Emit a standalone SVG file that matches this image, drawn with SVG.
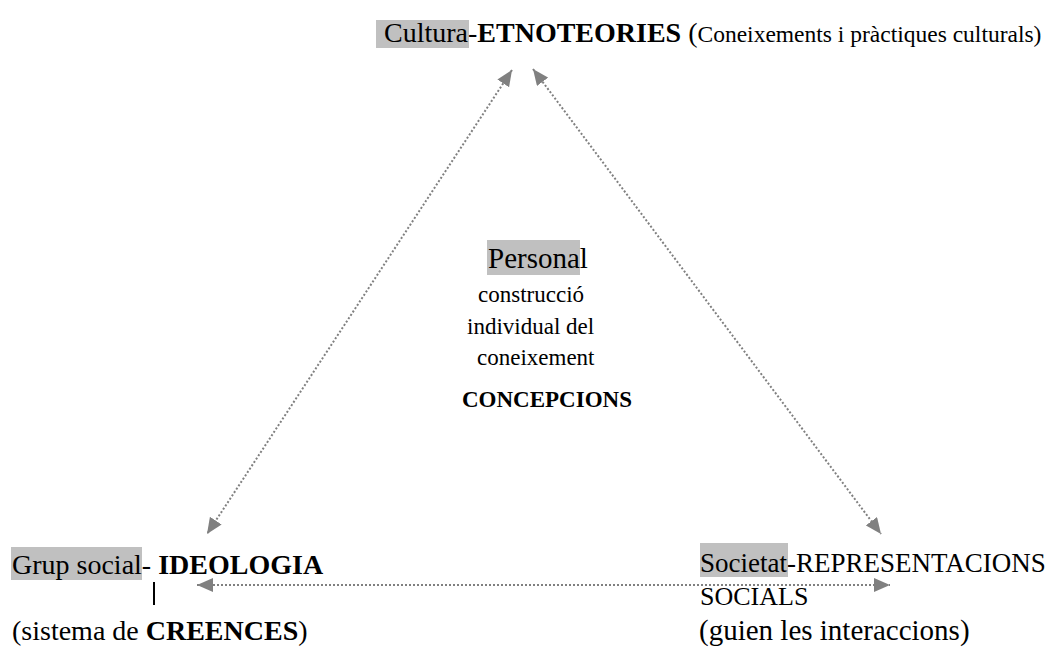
<svg xmlns="http://www.w3.org/2000/svg" width="1054" height="647" viewBox="0 0 1054 647">
  <style>
    text { font-family: "Liberation Serif", "Times New Roman", serif; fill: #000; }
    .hl { fill: #c0c0c0; }
    .b { font-weight: bold; }
    .conn { stroke: #808080; stroke-width: 2; stroke-dasharray: 2 2; fill: none; }
  </style>
  <defs>
    <marker id="ah" markerUnits="userSpaceOnUse" markerWidth="16" markerHeight="14" refX="16" refY="7" orient="auto-start-reverse">
      <path d="M0,0 L16,7 L0,14 z" fill="#808080"/>
    </marker>
  </defs>
  <rect width="1054" height="647" fill="#fff"/>

  <g id="connectors">
    <line class="conn" x1="512" y1="70" x2="207" y2="534" marker-start="url(#ah)" marker-end="url(#ah)"/>
    <line class="conn" x1="533" y1="69" x2="881" y2="534" marker-start="url(#ah)" marker-end="url(#ah)"/>
    <line class="conn" x1="197" y1="585" x2="890" y2="585" marker-start="url(#ah)" marker-end="url(#ah)"/>
  </g>

  <g id="node-cultura">
    <rect class="hl" x="376" y="20" width="93" height="28"/>
    <text x="384" y="42" font-size="28" font-family="Liberation Serif, serif">Cultura-<tspan class="b">ETNOTEORIES</tspan> (<tspan font-size="23.5">Coneixements i pràctiques culturals)</tspan></text>
  </g>

  <g id="node-personal">
    <rect class="hl" x="487" y="240" width="93" height="35"/>
    <text x="488" y="268" font-size="29" font-family="Liberation Serif, serif">Personal</text>
    <text x="478" y="302" font-size="23" font-family="Liberation Serif, serif">construcció</text>
    <text x="467" y="334" font-size="23" font-family="Liberation Serif, serif">individual del</text>
    <text x="477" y="365" font-size="23" font-family="Liberation Serif, serif">coneixement</text>
    <text x="462" y="407" font-size="23" class="b" font-family="Liberation Serif, serif">CONCEPCIONS</text>
  </g>

  <g id="node-grup">
    <rect class="hl" x="11" y="547" width="131" height="33"/>
    <text x="12" y="574" font-size="28" font-family="Liberation Serif, serif">Grup social- <tspan class="b">IDEOLOGIA</tspan></text>
    <line x1="154" y1="582" x2="154" y2="605" stroke="#000" stroke-width="2"/>
    <text x="12" y="640" font-size="28" font-family="Liberation Serif, serif">(sistema de <tspan class="b">CREENCES</tspan>)</text>
  </g>

  <g id="node-societat">
    <rect class="hl" x="700" y="543" width="88" height="34"/>
    <text x="700" y="572" font-size="27" font-family="Liberation Serif, serif">Societat-REPRESENTACIONS</text>
    <text x="700" y="605" font-size="26" font-family="Liberation Serif, serif">SOCIALS</text>
    <text x="699" y="640" font-size="29" font-family="Liberation Serif, serif">(guien les interaccions)</text>
  </g>
</svg>
